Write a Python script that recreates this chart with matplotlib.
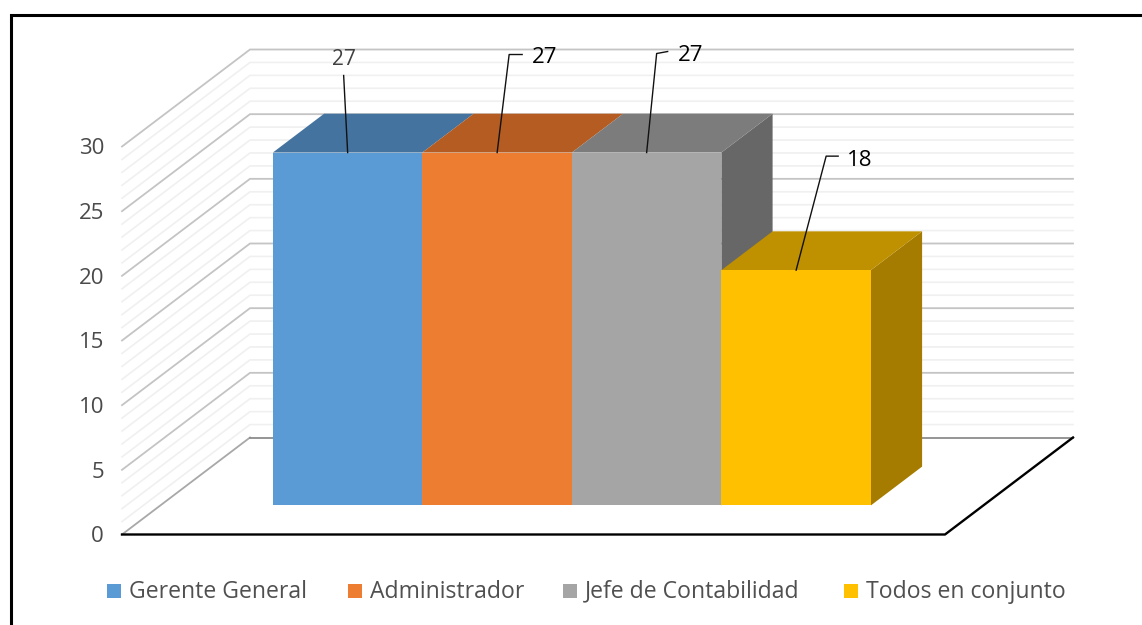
import matplotlib
matplotlib.use('Agg')
import matplotlib.pyplot as plt
from matplotlib.patches import Polygon, Rectangle

plt.rcParams['font.family'] = ['Open Sans', 'DejaVu Sans']

categories = ['Gerente General', 'Administrador', 'Jefe de Contabilidad', 'Todos en conjunto']
values = [27, 27, 27, 18]
y_ticks = [0, 5, 10, 15, 20, 25, 30]

front_colors = ['#5b9bd5', '#ed7d31', '#a5a5a5', '#ffc000']
top_colors = ['#44739f', '#b45c21', '#7c7c7c', '#bf9000']
side_colors = ['#3d6a96', '#a34f1b', '#676767', '#a57c00']
label_colors = ['#404040', '#000000', '#000000', '#000000']

# the picture has 3d perspective, so everything goes through project()
X0, Y0 = 122, 534.5
DX, DY = 128, 97
FLOOR_W = 823
UNIT = 388 / 30
BAR_UNIT = 13.07
BAR_W = 149.5
BAR_START = 112.5
D_FRONT, D_BACK = 0.3, 0.7


def project(x, v, d, unit=UNIT):
    return X0 + x + d * DX, Y0 - v * unit - d * DY


fig = plt.figure(figsize=(11.42, 6.25), dpi=100)
ax = fig.add_axes([0, 0, 1, 1])
ax.set_xlim(0, 1142)
ax.set_ylim(625, 0)
ax.axis('off')

# outer frame, only top and left show up
ax.plot([10.5, 10.5, 1142], [625, 14.5, 14.5], color='black', lw=2.2, solid_joinstyle='miter')

# wall grid, minor first
for v in range(0, 31):
    if v % 5 == 0:
        continue
    pts = [project(0, v, 0), project(0, v, 1), project(FLOOR_W, v, 1)]
    ax.plot(*zip(*pts), color='#f0f0f0', lw=1.2, zorder=1)
for v in y_ticks:
    pts = [project(0, v, 0), project(0, v, 1), project(FLOOR_W, v, 1)]
    if v == 0:
        ax.plot(*zip(*pts[:2]), color='#a8a8a8', lw=1.3, zorder=2)
        ax.plot(*zip(*pts[1:]), color='#8c8c8c', lw=1.3, zorder=2)
    else:
        ax.plot(*zip(*pts), color='#c4c4c4', lw=1.3, zorder=2)
    tx, ty = project(0, v, 0)
    ax.text(tx - 18, ty + 2.5, str(v), ha='right', va='center', fontsize=16, color='#4a4a4a')

# floor front edge
pts = [project(0, 0, 0), project(FLOOR_W, 0, 0), project(FLOOR_W, 0, 1)]
ax.plot(*zip(*pts), color='black', lw=1.7, zorder=3)

# bars
for i, val in enumerate(values):
    x1 = BAR_START + i * BAR_W
    x2 = x1 + BAR_W
    fl = project(x1, 0, D_FRONT, BAR_UNIT)
    fr = project(x2, 0, D_FRONT, BAR_UNIT)
    tl = project(x1, val, D_FRONT, BAR_UNIT)
    tr = project(x2, val, D_FRONT, BAR_UNIT)
    bl = project(x1, val, D_BACK, BAR_UNIT)
    br = project(x2, val, D_BACK, BAR_UNIT)
    lr = project(x2, 0, D_BACK, BAR_UNIT)
    z = 4 + i
    # side is hidden when the next bar is as tall
    if i == len(values) - 1 or values[i + 1] < val:
        ax.add_patch(Polygon([fr, lr, br, tr], fc=side_colors[i], ec='none', zorder=z))
    ax.add_patch(Polygon([tl, bl, br, tr], fc=top_colors[i], ec='none', zorder=z))
    ax.add_patch(Polygon([fl, fr, tr, tl], fc=front_colors[i], ec='none', zorder=z))

# data labels with their leader lines (offsets from bar top centre)
leaders = [
    [(-4, -77)],
    [(12, -98), (25, -98)],
    [(10, -99), (21, -101)],
    [(30, -114), (42, -114)],
]
label_off = [(-4, -93), (47, -95), (44, -97), (64, -109.5)]
for i, val in enumerate(values):
    x1 = BAR_START + i * BAR_W
    cx, cy = project(x1 + BAR_W / 2, val, D_FRONT, BAR_UNIT)
    xs = [cx] + [cx + o[0] for o in leaders[i]]
    ys = [cy] + [cy + o[1] for o in leaders[i]]
    ax.plot(xs, ys, color='#111111', lw=1, zorder=10)
    ax.text(cx + label_off[i][0], cy + label_off[i][1], str(val), ha='center', va='center',
            fontsize=16 if i else 15, color=label_colors[i], zorder=11)

# legend
leg_x = [107, 348, 563, 844]
leg_y = 591
for i, name in enumerate(categories):
    ax.add_patch(Rectangle((leg_x[i], leg_y - 7), 14, 14, fc=front_colors[i], ec='none'))
    ax.text(leg_x[i] + 22, leg_y + 0.5, name, ha='left', va='center', fontsize=16.6, color='#505050')

fig.savefig('out.png', dpi=100)
